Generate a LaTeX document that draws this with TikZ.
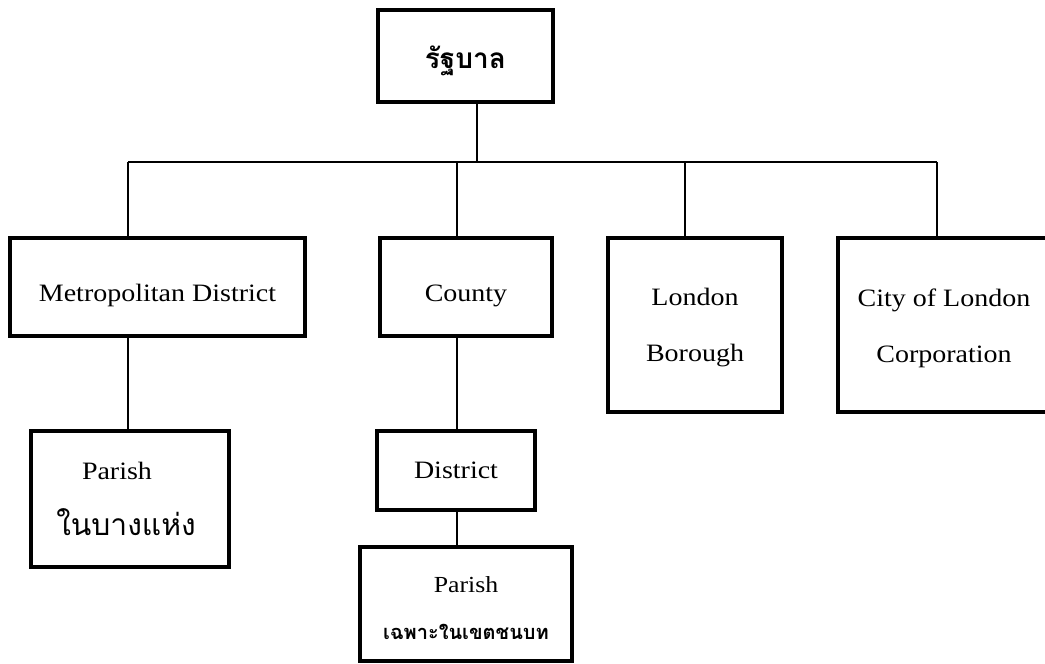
\documentclass[tikz,border=0pt]{standalone}
\usepackage{fontspec}
\setmainfont[FakeStretch=1.12]{Liberation Serif}
\newfontfamily\thaifont[Script=Thai]{Loma}
\newcommand{\lowr}[2]{\raisebox{-#1}[\height][\depth]{#2}}
\begin{document}
\begin{tikzpicture}[x=1pt,y=-1pt,
  box/.style={draw=black, line width=3.2pt, inner sep=0pt, align=center, font=\fontsize{25}{56}\selectfont},
  link/.style={draw=black, line width=1.8pt}]
\useasboundingbox (0,0) rectangle (1045,664);
\node[box, minimum width=175, minimum height=92] (top) at (465.5,56) {\lowr{5pt}{\thaifont\bfseries\fontsize{28}{30}\selectfont รัฐบาล}};
\node[box, minimum width=295, minimum height=98] (metro) at (157.5,287) {\lowr{8pt}{Metropolitan District}};
\node[box, minimum width=172, minimum height=98] (county) at (466,287) {\lowr{9pt}{County}};
\node[box, minimum width=174, minimum height=174] (london) at (695,325) {\lowr{3pt}{London}\\\lowr{3pt}{Borough}};
\node[box, minimum width=212, minimum height=174] (city) at (944,325) {\lowr{3pt}{City of London}\\\lowr{3pt}{Corporation}};
\node[box, minimum width=198, minimum height=136] (par1) at (130,499) {\hspace*{-26pt}Parish\\\hspace*{-8pt}{\thaifont\fontsize{30}{30}\selectfont ในบางแห่ง}};
\node[box, minimum width=158, minimum height=79] (dist) at (456,470.5) {District};
\node[box, minimum width=212, minimum height=114, font=\fontsize{23}{47}\selectfont] (par2) at (466,604) {\lowr{4pt}{Parish}\\\lowr{4pt}{\thaifont\bfseries\fontsize{20}{18}\selectfont เฉพาะในเขตชนบท}};
\coordinate (busL) at (128,162);
\coordinate (busR) at (937,162);
\draw[link] (busL) -- (busR);
\draw[link] ([xshift=11.5pt]top.south) -- ([xshift=11.5pt]top.south |- busL);
\draw[link] ([xshift=-29.5pt]metro.north) -- ([xshift=-29.5pt]metro.north |- busL);
\draw[link] ([xshift=-9pt]county.north) -- ([xshift=-9pt]county.north |- busL);
\draw[link] ([xshift=-10pt]london.north) -- ([xshift=-10pt]london.north |- busL);
\draw[link] ([xshift=-7pt]city.north) -- ([xshift=-7pt]city.north |- busL);
\draw[link] ([xshift=-29.5pt]metro.south) -- ([xshift=-29.5pt]metro.south |- par1.north);
\draw[link] ([xshift=-9pt]county.south) -- ([xshift=-9pt]county.south |- dist.north);
\draw[link] ([xshift=1pt]dist.south) -- ([xshift=1pt]dist.south |- par2.north);
\end{tikzpicture}
\end{document}
